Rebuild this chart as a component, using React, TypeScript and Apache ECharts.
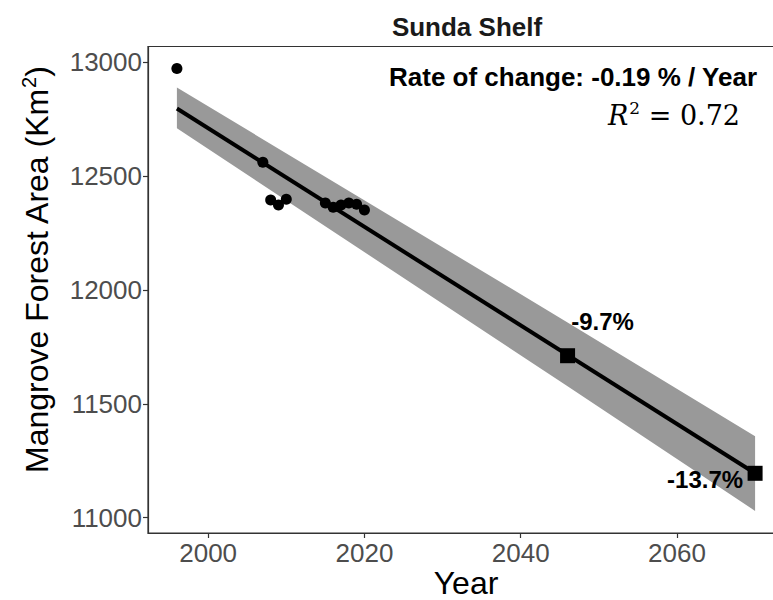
import React, { useEffect, useRef } from "react";
import * as echarts from "echarts";

const obsYears = [1996, 2007, 2008, 2009, 2010, 2015, 2016, 2017, 2018, 2019, 2020];
const obsArea = [12971, 12560, 12394, 12372, 12398, 12381, 12363, 12372, 12381, 12376, 12350];
const fitYears = [1996, 2070];
const fitArea = [12796, 11195];
const bandYears = [1996, 2046, 2070];
const bandUpper = [12888, 11857, 11358];
const bandLower = [12709, 11577, 11030];
const projYears = [2046, 2070];
const projArea = [11711, 11195];
const projLabels = ["-9.7%", "-13.7%"];
const xTicks = [2000, 2020, 2040, 2060];
const yTicks = [11000, 11500, 12000, 12500, 13000];

const titleText = "Sunda Shelf";
const rateText = "Rate of change: -0.19 % / Year";
const r2Value = "0.72";

const SANS = "'Liberation Sans', Arial, sans-serif";
const SERIF = "'DejaVu Serif', 'Liberation Serif', serif";

export default function App() {
  const ref = useRef<HTMLDivElement>(null);
  useEffect(() => {
    document.body.style.margin = "0";
    const chart = echarts.init(ref.current!, null, { renderer: "svg" });
    const labelOffsets = [
      [35, -34],
      [-50, 6],
    ];
    chart.setOption({
      animation: false,
      backgroundColor: "#ffffff",
      grid: {
        left: 148,
        right: -11,
        top: 46.5,
        bottom: 67,
        outerBoundsMode: "none",
        containLabel: false,
        show: true,
        borderColor: "#333333",
        borderWidth: 1.2,
        backgroundColor: "transparent",
      },
      xAxis: {
        type: "value",
        min: 1992.3,
        max: 2073.7,
        splitLine: { show: false },
        axisLine: { show: true, onZero: false, lineStyle: { color: "#333333", width: 1.2 } },
        axisTick: { show: true, length: 5, customValues: xTicks, lineStyle: { color: "#333333", width: 1.2 } },
        axisLabel: {
          customValues: xTicks,
          formatter: (v: number) => String(v),
          fontSize: 26,
          color: "#4d4d4d",
          fontFamily: SANS,
          margin: 7,
        },
        name: "Year",
        nameLocation: "middle",
        nameGap: 34,
        nameMoveOverlap: false,
        nameTextStyle: { fontSize: 32, lineHeight: 32, color: "#000000", fontFamily: SANS },
      },
      yAxis: {
        type: "value",
        min: 10933,
        max: 13068,
        splitLine: { show: false },
        axisLine: { show: true, onZero: false, lineStyle: { color: "#333333", width: 1.2 } },
        axisTick: { show: true, length: 5, customValues: yTicks, lineStyle: { color: "#333333", width: 1.2 } },
        axisLabel: {
          customValues: yTicks,
          formatter: (v: number) => String(v),
          fontSize: 26,
          color: "#4d4d4d",
          fontFamily: SANS,
          margin: 6,
        },
      },
      graphic: [
        {
          type: "text",
          x: 467,
          y: 27,
          style: {
            text: titleText,
            align: "center",
            verticalAlign: "middle",
            font: `bold 26px ${SANS}`,
            fill: "#1a1a1a",
          },
        },
        {
          type: "text",
          x: 757,
          y: 77,
          z: 10,
          style: {
            text: rateText,
            align: "right",
            verticalAlign: "middle",
            font: `bold 26px ${SANS}`,
            fill: "#000000",
          },
        },
        {
          type: "text",
          x: 740,
          y: 115,
          z: 10,
          style: {
            text: `{i|R}{s|2}{n| = ${r2Value}}`,
            align: "right",
            verticalAlign: "middle",
            fill: "#000000",
            rich: {
              i: { fontFamily: SERIF, fontStyle: "italic", fontSize: 27, fill: "#000" },
              s: { fontFamily: SERIF, fontSize: 17, fill: "#000", padding: [0, 0, 14, 1] },
              n: { fontFamily: SERIF, fontSize: 27, fill: "#000" },
            },
          },
        },
        {
          type: "text",
          x: 37,
          y: 270,
          rotation: Math.PI / 2,
          style: {
            text: "Mangrove Forest Area (Km{s|2})",
            align: "center",
            verticalAlign: "middle",
            font: `32px ${SANS}`,
            fill: "#000000",
            rich: {
              s: { fontFamily: SANS, fontSize: 20, fill: "#000", padding: [0, 0, 16, 0] },
            },
          },
        },
      ],
      series: [
        {
          type: "custom",
          z: 1,
          silent: true,
          data: bandYears.map((yr, i) => [yr, bandUpper[i], bandLower[i]]),
          encode: { x: 0, y: [1, 2] },
          renderItem: (params: any, api: any) => {
            if (params.dataIndex !== 0) return null;
            const up = bandYears.map((yr, i) => api.coord([yr, bandUpper[i]]));
            const lo = bandYears.map((yr, i) => api.coord([yr, bandLower[i]])).reverse();
            return {
              type: "polygon",
              shape: { points: up.concat(lo) },
              style: { fill: "#999999", stroke: "none" },
            };
          },
        },
        {
          type: "line",
          z: 2,
          data: fitYears.map((yr, i) => [yr, fitArea[i]]),
          symbol: "none",
          lineStyle: { color: "#000000", width: 4 },
        },
        {
          type: "scatter",
          z: 3,
          data: obsYears.map((yr, i) => [yr, obsArea[i]]),
          symbol: "circle",
          symbolSize: 11,
          itemStyle: { color: "#000000", opacity: 1 },
        },
        {
          type: "scatter",
          z: 4,
          data: projYears.map((yr, i) => ({
            value: [yr, projArea[i]],
            label: {
              show: true,
              position: "inside",
              offset: labelOffsets[i],
              formatter: projLabels[i],
              fontSize: 24,
              fontWeight: "bold",
              fontFamily: SANS,
              color: "#000000",
              opacity: 1,
            },
          })),
          symbol: "rect",
          symbolSize: 15,
          itemStyle: { color: "#000000", opacity: 1 },
        },
      ],
    });
    return () => chart.dispose();
  }, []);
  return (
    <div style={{ width: 773, height: 600, overflow: "hidden" }}>
      <div ref={ref} style={{ width: 773, height: 600 }} />
    </div>
  );
}
